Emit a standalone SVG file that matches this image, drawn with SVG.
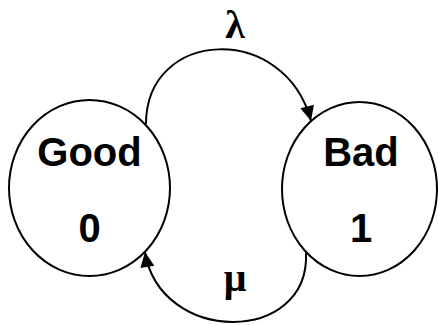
<svg xmlns="http://www.w3.org/2000/svg" width="438" height="325" viewBox="0 0 438 325">
<style>
.node{fill:#fff;stroke:#000;stroke-width:2}
.lbl{font-family:"Liberation Sans",Arial,sans-serif;font-weight:bold;font-size:40px;text-anchor:middle;fill:#000}
.edge{fill:none;stroke:#000;stroke-width:2}
.greek{font-family:"Liberation Serif","DejaVu Serif",serif;font-weight:bold;font-size:40px;text-anchor:middle;fill:#000}
</style>
<defs>
<marker id="arr" markerUnits="userSpaceOnUse" markerWidth="16" markerHeight="14" refX="15" refY="7" orient="auto" overflow="visible">
<path d="M0,0 L15,7 L0,14 z" fill="#000"/>
</marker>
</defs>
<g id="good">
<ellipse class="node" cx="89.5" cy="188" rx="80.5" ry="88"/>
<text class="lbl" x="89.5" y="166">Good</text>
<text class="lbl" x="89.5" y="242">0</text>
</g>
<g id="bad">
<ellipse class="node" cx="359.5" cy="189" rx="77.5" ry="87"/>
<text class="lbl" x="361" y="166">Bad</text>
<text class="lbl" x="361" y="242">1</text>
</g>
<g id="connectors">
<path class="edge" d="M146,124 C146,28 285,22 311,121" marker-end="url(#arr)"/>
<path class="edge" d="M306,253 C310,345 160,345 145,252" marker-end="url(#arr)"/>
<text class="greek" x="235" y="38">λ</text>
<text class="greek" x="235" y="291">μ</text>
</g>
</svg>
